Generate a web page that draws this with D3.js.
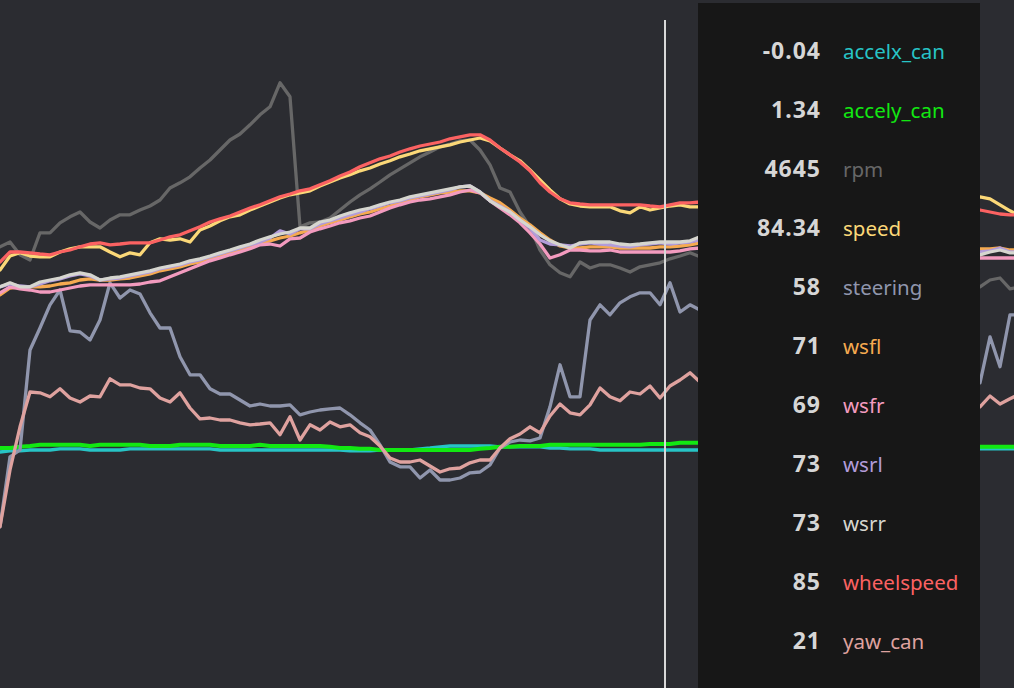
<!DOCTYPE html>
<meta charset="utf-8">
<script src="https://d3js.org/d3.v7.min.js"></script>
<style>
  body { margin: 0; background: #2b2c31; overflow: hidden; }
</style>
<div id="my_dataviz"></div>
<script>

// sample times (0.1 s steps); the part under the tooltip panel is not shown
var time = d3.range(0, 71).concat([98, 99, 100, 101, 101.4]);
var cursorTime = 66.5;

var names = ["accelx_can", "accely_can", "rpm", "speed", "steering", "wsfl", "wsfr", "wsrl", "wsrr", "wheelspeed", "yaw_can"];
var colors = ["#27c4c6", "#12e812", "#676767", "#fbd878", "#9096ad", "#f6aa50", "#f39bbf", "#b29cd9", "#d6d6cf", "#fb6262", "#dfa29f"];
var cursorValues = ["-0.04", "1.34", "4645", "84.34", "58", "71", "69", "73", "73", "85", "21"];

// normalized signal levels
var accelx = [59, 59.3, 59.3, 59.5, 59.5, 59.5, 59.8, 59.8, 59.8, 59.5,
  59.5, 59.5, 59.5, 59.8, 59.8, 59.8, 59.8, 59.8, 59.8, 59.8,
  59.8, 59.8, 59.5, 59.5, 59.5, 59.5, 59.5, 59.5, 59.5, 59.5,
  59.5, 59.5, 59.5, 59.5, 59.5, 59.3, 59.3, 59.3, 59.5, 59.5,
  59.5, 59.5, 59.8, 60, 60.3, 60.5, 60.5, 60.5, 60.5, 60.5,
  60.3, 60.3, 60.3, 60.3, 60.3, 60, 60, 59.8, 59.8, 59.8,
  59.5, 59.5, 59.5, 59.5, 59.5, 59.5, 59.5, 59.5, 59.5, 59.5,
  59.5,
  59.8, 59.8, 59.8, 59.8, 59.8];

var accely = [60, 60, 60.3, 60.5, 60.8, 60.8, 60.8, 60.8, 60.8, 60.5,
  60.8, 60.8, 60.8, 60.8, 60.8, 60.5, 60.5, 60.5, 60.8, 60.8,
  60.8, 60.8, 60.5, 60.5, 60.5, 60.5, 60.8, 60.5, 60.5, 60.5,
  60.5, 60.5, 60.5, 60.3, 60, 60, 59.8, 59.8, 59.5, 59.5,
  59.5, 59.5, 59.5, 59.5, 59.5, 59.5, 59.5, 59.5, 59.8, 60,
  60.3, 60.3, 60.5, 60.5, 60.5, 60.8, 60.8, 60.8, 60.8, 60.8,
  60.8, 60.8, 60.8, 60.8, 60.8, 61, 61, 61, 61.3, 61.3,
  61.3,
  60.3, 60.3, 60.3, 60.3, 60.3];

var rpm = [110.3, 111.5, 108.3, 107, 113.8, 113.8, 116.3, 117.8, 119, 116.5,
  115, 117, 118.3, 118.3, 119.5, 120.5, 122, 125, 126.3, 127.8,
  130, 132, 134.5, 137, 138.5, 140.8, 143.3, 145.3, 151.3, 147.8,
  115.3, 116.3, 116.5, 117.5, 119.5, 121.5, 123.3, 124.8, 126.5, 128.3,
  129.8, 131.3, 132.8, 134, 135.3, 136, 136.8, 137, 134.5, 130.8,
  125, 124, 119, 115.3, 109.5, 105.8, 103.8, 102.8, 106.5, 105,
  105.8, 105.8, 105, 104, 105.3, 105.8, 106.3, 107.3, 108, 108.8,
  107.8,
  100.3, 102, 102.5, 99.8, 100];

var speed = [104.5, 108, 108.8, 108, 107.8, 107.8, 109, 109.8, 110.3, 110.3,
  110.3, 109, 107.8, 108.8, 108.3, 111.3, 112.3, 112, 112.3, 111.5,
  114.5, 115.5, 116.8, 117.8, 118.3, 119.5, 120.5, 121.5, 122.5, 123.3,
  123.8, 124.3, 125.5, 126.5, 127.5, 128.3, 129.3, 130, 131, 131.8,
  132.8, 133.5, 134.3, 134.8, 135.3, 135.8, 136.5, 137, 137.5, 136.8,
  135, 133.3, 131.8, 129.5, 127, 124.5, 122.3, 121, 120.5, 120.3,
  120.3, 120.3, 119.3, 118.8, 120.3, 119.5, 120, 120.5, 120.8, 120.3,
  120.3,
  122.8, 122.3, 120.8, 119.3, 118.8];

var steering = [40.3, 57.8, 59.5, 84.5, 90, 95.8, 99.5, 89.3, 89, 87,
  92, 101.3, 97.5, 99.5, 98.5, 93.8, 90, 90, 82.8, 78.3,
  78.3, 74.8, 73.5, 73.5, 72, 70.5, 71, 70.5, 70.5, 70.8,
  68.3, 69, 69.5, 69.8, 70, 68.3, 66.3, 64.5, 60.8, 56.5,
  55.3, 55.3, 52.5, 54.5, 52, 52, 52.5, 53.8, 54, 55.8,
  60, 61.5, 62, 61.8, 62.5, 70.3, 80.8, 72.8, 72.8, 92,
  95.8, 93.3, 96.3, 97.8, 98.8, 98.8, 95.8, 101.3, 94, 95.8,
  94.5,
  76.3, 87.8, 80.3, 93.3, 93.3];

var wsfl = [98.3, 100, 100.3, 100.3, 100.3, 100.5, 101, 101.3, 102, 102.3,
  102, 102, 102.3, 102.5, 103, 103.5, 104.3, 104.8, 105.3, 106,
  106.5, 107.3, 108, 108.8, 109.5, 110.3, 111, 111.8, 112.5, 113,
  113.8, 114.5, 115.5, 116.3, 117, 117.8, 118.5, 119, 119.8, 120.5,
  121.3, 122, 122.8, 123.3, 123.8, 124, 124.3, 124.3, 123.8, 122.5,
  121.3, 119.5, 117.5, 115.8, 113.8, 112, 110.5, 110, 110, 110.3,
  110.3, 110.3, 110, 110, 110, 110, 110.3, 110.3, 110.5, 110.8,
  111.3,
  109.8, 109.8, 110, 109.5, 109.5];

var wsfr = [98.8, 100.3, 99.8, 99.5, 99, 99, 99.5, 100, 100.5, 100.8,
  100.8, 100.8, 100.8, 100.8, 101, 101.5, 101.8, 102.8, 103.8, 104.8,
  105.8, 106.8, 107.5, 108.3, 109, 109.8, 110.8, 111, 110.5, 112.3,
  112.5, 114, 114.8, 115.5, 116.3, 116.8, 117.5, 118, 119, 120,
  120.8, 121.5, 122, 122.3, 122.8, 123.3, 124, 124.5, 123.8, 121.8,
  120, 118.3, 116.3, 113.8, 111, 107.5, 108.3, 109.5, 109.5, 109.3,
  109.3, 109.5, 109, 109, 109, 109, 109, 109, 109.3, 109.8,
  110,
  107.5, 107.5, 107.5, 107.5, 107.5];

var wsrl = [100.3, 101, 100.5, 100.3, 101, 101.8, 102.3, 103, 103.5, 103,
  102, 102.3, 102.5, 103, 103.5, 104, 104.8, 105.3, 105.8, 106.5,
  107, 107.8, 108.5, 109.3, 110, 110.8, 111.5, 112.5, 114.3, 113.5,
  114.8, 114.8, 116, 116.8, 117.5, 118.3, 119, 119.8, 120.5, 121.3,
  121.8, 122.5, 123, 123.5, 124, 124.5, 125.3, 125.5, 124, 121.8,
  120.5, 119, 117, 115, 112, 111, 110.8, 110.5, 111, 111.3,
  111, 110.8, 110.5, 110.3, 110.8, 111, 111.3, 111, 111.3, 111.5,
  112,
  109, 109.3, 110, 109, 109];

var wsrr = [100.3, 101.3, 100.3, 100.3, 101.5, 102, 102.5, 103.3, 103.8, 103.3,
  102, 102.5, 102.8, 103.3, 103.8, 104.3, 105, 105.5, 106, 106.8,
  107.3, 108, 108.8, 109.5, 110.3, 111, 112, 112.8, 113.5, 114,
  115, 115, 116.5, 117, 118, 118.8, 119.5, 120, 120.8, 121.5,
  122, 122.8, 123.3, 123.8, 124.3, 124.8, 125.3, 125.5, 124, 121.8,
  120.3, 119, 117, 115.3, 113.3, 111.8, 110.8, 110, 111.3, 111.5,
  111.5, 111.5, 111, 110.8, 111, 111.3, 111.5, 111.5, 111.5, 111.8,
  112.8,
  108.3, 109, 109.5, 108.8, 108.8];

var wheelspeed = [106.5, 109, 109, 108.8, 108.5, 108.3, 109, 109.5, 110.3, 111,
  111.3, 110.8, 111, 111.3, 111.3, 111.3, 112, 112.8, 113.3, 114.3,
  115.3, 116.5, 117.3, 118, 119, 120, 120.8, 121.8, 122.8, 123.5,
  124.3, 124.8, 125.8, 126.8, 128, 129, 130.3, 131.3, 132.3, 133,
  134, 134.8, 135.5, 136, 136.5, 137.3, 137.8, 138.3, 138.3, 137,
  135, 133.3, 131.5, 129.3, 126.3, 124, 122.3, 121.3, 121, 120.8,
  120.8, 120.8, 120.8, 120.8, 120.8, 120.5, 120.3, 120.8, 121.3, 121.3,
  121.5,
  119.5, 119, 118.5, 118.3, 118.3];

var yaw = [40.3, 54.5, 65.3, 74, 73.8, 72.8, 74.8, 72.5, 71.5, 73,
  72.8, 77.3, 75.8, 75.8, 75, 74.8, 72.5, 71.5, 73.8, 70,
  67.3, 67.5, 67, 67, 66.3, 65.8, 66, 66.3, 63.3, 67.8,
  62, 65.8, 64.5, 66.5, 65.3, 65.8, 63.8, 62.8, 60.5, 57.5,
  56.5, 56.5, 57, 55.5, 54, 54.8, 55, 56.3, 57, 57,
  60, 62.3, 63.5, 65.3, 63.8, 68, 71, 68.8, 68.3, 70.8,
  75, 72.8, 71.8, 74, 73.5, 75.5, 72.5, 75.5, 77, 78.8,
  76.5,
  70.3, 73, 71, 72.3, 72.8];

var seriesValues = [accelx, accely, rpm, speed, steering, wsfl, wsfr, wsrl, wsrr, wheelspeed, yaw];

var width = 1014, height = 688;

var svg = d3.select("#my_dataviz")
  .append("svg")
    .attr("width", width)
    .attr("height", height)
    .style("display", "block");

svg.append("rect")
  .attr("width", width)
  .attr("height", height)
  .attr("fill", "#2b2c31");

var x = d3.scaleLinear()
  .domain([0, 101.4])
  .range([0, width]);

var y = d3.scaleLinear()
  .domain([0, 170])
  .range([height, 8]);

var line = d3.line()
  .x(function(d, i) { return x(time[i]); })
  .y(function(d) { return y(d); });

svg.append("g")
  .selectAll("path")
  .data(seriesValues)
  .enter().append("path")
    .attr("d", line)
    .attr("fill", "none")
    .attr("stroke", function(d, i) { return colors[i]; })
    .attr("stroke-width", function(d, i) { return i == 1 ? 4 : 3.3; })
    .attr("stroke-linejoin", "round")
    .attr("stroke-linecap", "round");

// hover cursor
svg.append("line")
  .attr("x1", x(cursorTime))
  .attr("x2", x(cursorTime))
  .attr("y1", 20)
  .attr("y2", height)
  .attr("stroke", "#d8d8d8")
  .attr("stroke-width", 2);

// tooltip panel
var tip = svg.append("g").attr("transform", "translate(698,3)");

tip.append("rect")
  .attr("width", 282)
  .attr("height", 685)
  .attr("fill", "#171717");

var rows = tip.selectAll("g.row")
  .data(names)
  .enter().append("g")
    .attr("class", "row")
    .attr("transform", function(d, i) { return "translate(0," + (56 + i * 59) + ")"; });

rows.append("text")
  .attr("x", 123)
  .attr("text-anchor", "end")
  .attr("fill", "#d6d6d6")
  .style("font-family", "'Noto Sans', sans-serif")
  .style("font-weight", "bold")
  .style("font-size", "23px")
  .style("letter-spacing", "1px")
  .text(function(d, i) { return cursorValues[i]; });

rows.append("text")
  .attr("x", 145)
  .attr("fill", function(d, i) { return colors[i]; })
  .style("font-family", "'Noto Sans', sans-serif")
  .style("font-size", "20.5px")
  .text(function(d) { return d; });

</script>
